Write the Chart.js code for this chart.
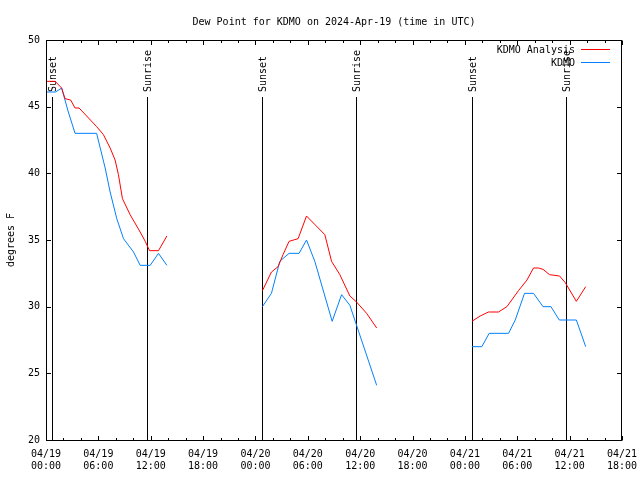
<!DOCTYPE html>
<html>
<head>
<meta charset="utf-8">
<script src="https://cdn.jsdelivr.net/npm/chart.js@4.4.1/dist/chart.umd.min.js"></script>
<style>html,body{margin:0;padding:0;background:#fff}canvas{display:block}</style>
</head>
<body>
<canvas id="c" width="640" height="480"></canvas>
<script>
// ---- data (hours since 04/19 00:00 UTC) ----
const titleText = 'Dew Point for KDMO on 2024-Apr-19 (time in UTC)';
const seriesNames = ['KDMO Analysis', 'KDMO'];

const analysisHours = [0, 1.05, 1.79, 2.18, 2.82, 3.33, 3.79, 5.81, 6.58, 7.35, 7.92, 8.30, 8.76, 9.64, 10.79, 11.37, 11.86, 12.89, 13.85,
  19,
  24.80, 25.83, 26.59, 27.16, 27.85, 28.89, 29.85, 31.95, 32.72, 33.67, 34.82, 35.51, 36.74, 37.89,
  43,
  48.80, 49.75, 50.70, 51.85, 52.81, 54.14, 55.11, 55.86, 56.44, 56.95, 57.70, 58.85, 59.50, 60.77, 61.84];
const analysisValues = [46.9, 46.9, 46.4, 45.6, 45.5, 44.9, 44.9, 43.5, 42.9, 41.9, 41.0, 39.9, 38.1, 36.9, 35.6, 34.9, 34.2, 34.2, 35.3,
  null,
  31.2, 32.6, 33.0, 33.9, 34.9, 35.1, 36.8, 35.4, 33.4, 32.4, 30.8, 30.4, 29.5, 28.4,
  null,
  28.9, 29.3, 29.6, 29.6, 30.0, 31.2, 32.0, 32.9, 32.9, 32.8, 32.4, 32.3, 31.8, 30.4, 31.5];

const obsHours = [0, 1.1, 1.79, 2.56, 3.33, 5.80, 6.78, 7.35, 8.11, 8.88, 10.03, 10.79, 11.94, 12.89, 13.85,
  19,
  24.80, 25.83, 26.79, 27.85, 29.0, 29.85, 30.80, 32.79, 33.87, 34.82, 37.89,
  43,
  48.80, 49.94, 50.78, 53.0, 53.77, 54.83, 55.86, 56.95, 57.86, 58.81, 60.77, 61.84];
const obsValues = [46.1, 46.1, 46.4, 44.6, 43.0, 43.0, 40.4, 38.6, 36.6, 35.1, 34.1, 33.1, 33.1, 34.0, 33.1,
  null,
  30.0, 31.0, 33.4, 34.0, 34.0, 35.0, 33.4, 28.9, 30.9, 30.1, 24.1,
  null,
  27.0, 27.0, 28.0, 28.0, 29.0, 31.0, 31.0, 30.0, 30.0, 29.0, 29.0, 27.0];

const sunsetHours = [0.74, 24.78, 48.80];
const sunriseHours = [11.62, 35.57, 59.60];

const xTickHours = [0, 6, 12, 18, 24, 30, 36, 42, 48, 54, 60, 66];
const xTickLabels = [
  ['04/19', '00:00'], ['04/19', '06:00'], ['04/19', '12:00'], ['04/19', '18:00'],
  ['04/20', '00:00'], ['04/20', '06:00'], ['04/20', '12:00'], ['04/20', '18:00'],
  ['04/21', '00:00'], ['04/21', '06:00'], ['04/21', '12:00'], ['04/21', '18:00']];
const yMin = 20, yMax = 50, yStep = 5;
const xMin = 0, xMax = 66, xMinorStep = 2;

const colors = ['#ff0000', '#0080ff'];
const FONT = "'DejaVu Sans Mono', 'Liberation Mono', monospace";

Chart.defaults.font.family = FONT;
Chart.defaults.font.size = 10;
Chart.defaults.color = '#000';

function pts(hs, vs) { return hs.map((h, i) => ({ x: h, y: vs[i] })); }

const overlay = {
  id: 'overlay',
  beforeDatasetsDraw(chart) {
    const ctx = chart.ctx, a = chart.chartArea, xs = chart.scales.x;
    ctx.save();
    ctx.strokeStyle = '#000';
    ctx.lineWidth = 1;
    ctx.fillStyle = '#000';
    ctx.font = '10px ' + FONT;
    const draw = (h, label) => {
      const x = Math.round(xs.getPixelForValue(h)) + 0.5;
      ctx.beginPath();
      ctx.moveTo(x, 97);
      ctx.lineTo(x, a.bottom);
      ctx.stroke();
      ctx.save();
      ctx.translate(x + 1, 92);
      ctx.rotate(-Math.PI / 2);
      ctx.textAlign = 'left';
      ctx.textBaseline = 'middle';
      ctx.fillText(label, 0, 0);
      ctx.restore();
    };
    sunsetHours.forEach(h => draw(h, 'Sunset'));
    sunriseHours.forEach(h => draw(h, 'Sunrise'));
    ctx.restore();
  },
  afterDatasetsDraw(chart) {
    const ctx = chart.ctx, a = chart.chartArea, xs = chart.scales.x, ys = chart.scales.y;
    ctx.save();
    ctx.strokeStyle = '#000';
    ctx.lineWidth = 1;
    const L = Math.round(a.left) + 0.5, R = Math.round(a.right) - 0.5;
    const T = Math.round(a.top) + 0.5, B = Math.round(a.bottom) + 0.5;
    ctx.strokeRect(L, T, R - L, B - T);
    ctx.beginPath();
    xs.ticks.forEach(t => {
      const x = Math.round(xs.getPixelForValue(t.value)) + 0.5;
      const len = (t.value % 6 === 0) ? 4.5 : 2.5;
      ctx.moveTo(x, B); ctx.lineTo(x, B - len);
      ctx.moveTo(x, T); ctx.lineTo(x, T + len);
    });
    ys.ticks.forEach(t => {
      const y = Math.round(ys.getPixelForValue(t.value)) + 0.5;
      ctx.moveTo(L, y); ctx.lineTo(L + 4.5, y);
      ctx.moveTo(R, y); ctx.lineTo(R - 4.5, y);
    });
    ctx.stroke();
    // legend
    ctx.font = '10px ' + FONT;
    ctx.fillStyle = '#000';
    ctx.textAlign = 'right';
    ctx.textBaseline = 'middle';
    seriesNames.forEach((n, i) => {
      const y = 50 + i * 13;
      ctx.fillText(n, 575, y);
      ctx.strokeStyle = colors[i];
      ctx.beginPath();
      ctx.moveTo(581, y - 0.5);
      ctx.lineTo(610, y - 0.5);
      ctx.stroke();
    });
    ctx.restore();
  }
};

new Chart(document.getElementById('c'), {
  type: 'line',
  data: {
    datasets: [
      { label: seriesNames[0], data: pts(analysisHours, analysisValues), borderColor: colors[0], borderWidth: 1, pointRadius: 0, tension: 0, spanGaps: false },
      { label: seriesNames[1], data: pts(obsHours, obsValues), borderColor: colors[1], borderWidth: 1, pointRadius: 0, tension: 0, spanGaps: false }
    ]
  },
  options: {
    responsive: false,
    animation: false,
    devicePixelRatio: 1,
    layout: { padding: { left: 0, right: 18, top: 0, bottom: 0 } },
    plugins: {
      legend: { display: false },
      tooltip: { enabled: false },
      title: { display: true, fullSize: false, text: titleText, font: { size: 10, weight: 'normal', family: FONT }, color: '#000', padding: { top: 16, bottom: 12 } }
    },
    scales: {
      x: {
        type: 'linear', min: xMin, max: xMax,
        grid: { display: false, drawTicks: false },
        border: { display: false },
        ticks: {
          stepSize: xMinorStep, autoSkip: false, maxRotation: 0, padding: 8,
          callback: (v) => { const i = xTickHours.indexOf(v); return i >= 0 ? xTickLabels[i] : ''; }
        },
        afterFit: (s) => { s.height = 40; s.paddingLeft = 0; s.paddingRight = 0; }
      },
      y: {
        min: yMin, max: yMax,
        grid: { display: false, drawTicks: false },
        border: { display: false },
        ticks: { stepSize: yStep, padding: 6 },
        title: { display: true, text: 'degrees F', font: { size: 10, family: FONT }, padding: { top: 5, bottom: 0 } },
        afterFit: (s) => { s.width = 46; s.paddingTop = 0; s.paddingBottom = 0; }
      }
    }
  },
  plugins: [overlay]
});
</script>
</body>
</html>
